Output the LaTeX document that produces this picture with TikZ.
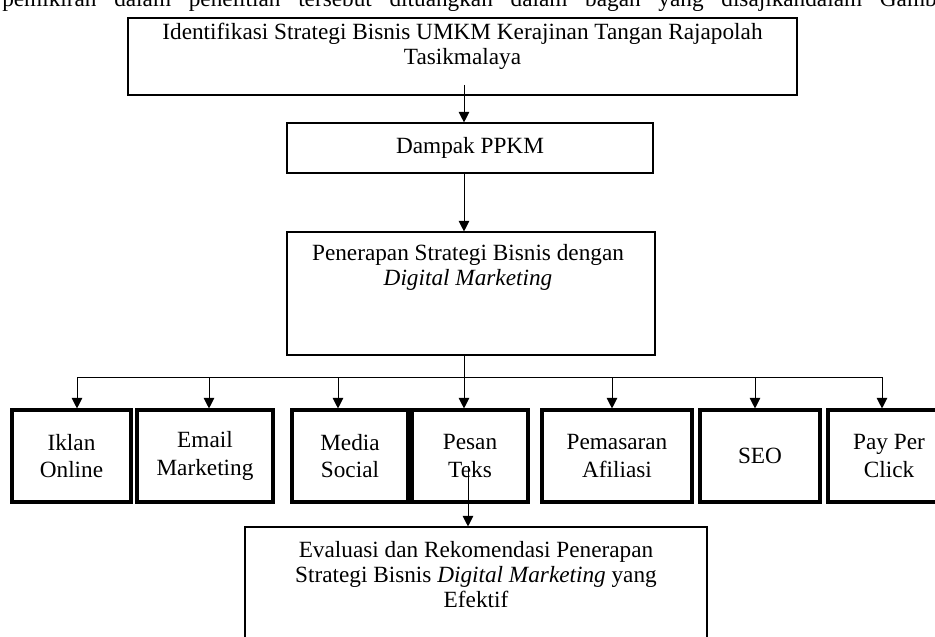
\documentclass[tikz,border=0pt]{standalone}
\usepackage{fontspec}
\setmainfont{Liberation Serif}
\usetikzlibrary{arrows.meta}

\begin{document}
\begin{tikzpicture}[x=0.714pt,y=-0.714pt,
	font=\fontsize{16.6}{18}\selectfont,
	arr/.style={-{Triangle[length=7.5pt,width=7.5pt]},line width=0.7pt},
	box/.style={rectangle,draw,line width=0.8pt},
	sbox/.style={rectangle,draw,line width=2.2pt,minimum height=65.7pt,align=center,inner sep=0pt,font=\fontsize{16.6}{19.5}\selectfont},
	txt/.style={anchor=north,align=center,inner sep=0pt}]
\useasboundingbox (0,0) rectangle (935,637);
\node[anchor=base west,inner sep=0pt] (intro) at (2,7) {\hbox to 680pt{pemikiran dalam penelitian tersebut dituangkan dalam bagan yang disajikandalam Gambar}};

\node [box,minimum width=477.7pt,minimum height=55pt] (ident) at (462.5,56.5) {};
\node [txt] (identtxt) at (462.5,23) {Identifikasi Strategi Bisnis UMKM Kerajinan Tangan Rajapolah\\Tasikmalaya};
\node [box,minimum width=261.3pt,minimum height=35.7pt] (dampak) at (470,148) {Dampak PPKM};
\node [box,minimum width=262.8pt,minimum height=87.8pt] (penerapan) at (471,293.5) {};
\node [txt] (penerapantxt) at (468,244) {Penerapan Strategi Bisnis dengan\\\textit{Digital Marketing}};

\node [sbox,minimum width=85pt] (iklan) at (71.5,456) {Iklan\\Online};
\node [sbox,minimum width=97.1pt] (email) at (205,456) {Email\\Marketing};
\node [sbox,minimum width=82.8pt] (media) at (350,456) {Media\\Social};
\node [sbox,minimum width=82.8pt] (pesan) at (470,456) {Pesan\\Teks};
\node [sbox,minimum width=107.1pt] (pemasaran) at (617,456) {Pemasaran\\Afiliasi};
\node [sbox,minimum width=85.7pt] (seo) at (760,456) {SEO};
\node [sbox,minimum width=87.1pt] (ppc) at (889,456) {Pay Per\\Click};

\node [box,minimum width=329.9pt,minimum height=98.5pt] (evaluasi) at (476,596) {};
\node [txt] (evaluasitxt) at (476,541) {Evaluasi dan Rekomendasi Penerapan\\Strategi Bisnis \textit{Digital Marketing} yang\\Efektif};

\coordinate (identstem) at (464,85);
\coordinate (stem) at (464,377);
\draw[arr] (identstem) -- (identstem |- dampak.north);
\draw[arr] (stem |- dampak.south) -- (stem |- penerapan.north);
\draw[arr] (stem |- penerapan.south) -- (stem |- pesan.north);
\foreach \n/\x in {iklan/77,email/209,media/338,pemasaran/612,seo/755,ppc/882}{
	\coordinate (top\n) at (\x,377);
	\draw[arr] (top\n) -- (top\n |- \n.north);
}
\draw[line width=0.7pt] (topiklan) -- (topppc);
\coordinate (pesanstem) at (468,466);
\draw[arr] (pesanstem) -- (pesanstem |- evaluasi.north);
\end{tikzpicture}
\end{document}
